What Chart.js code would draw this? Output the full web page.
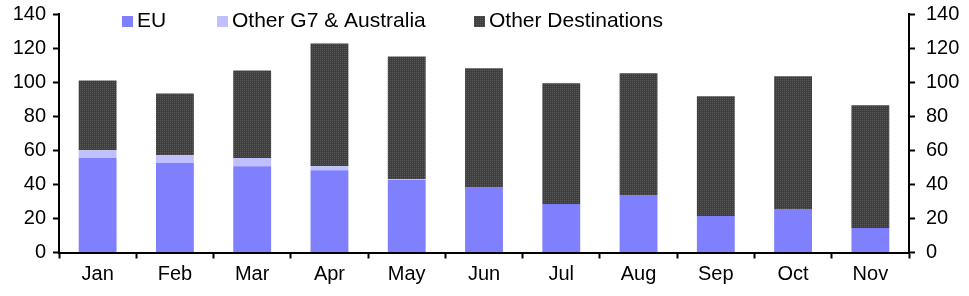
<!DOCTYPE html>
<html>
<head>
<meta charset="utf-8">
<script src="https://cdn.jsdelivr.net/npm/chart.js@4/dist/chart.umd.min.js"></script>
<style>
html,body{margin:0;padding:0;background:#fff;}
#wrap{position:relative;width:969px;height:296px;}
</style>
</head>
<body>
<div id="wrap"><canvas id="c" width="969" height="296"></canvas></div>
<script>
const categories = ['Jan','Feb','Mar','Apr','May','Jun','Jul','Aug','Sep','Oct','Nov'];
const euValues = [55.5, 52.5, 50.7, 48.3, 42.7, 38.4, 28.4, 33.7, 21.4, 25.5, 14.4];
const otherG7Values = [4.5, 4.7, 4.7, 2.4, 0.4, 0, 0, 0, 0, 0, 0];
const otherDestValues = [41.0, 36.1, 51.5, 72.0, 72.0, 69.7, 70.9, 71.5, 70.3, 77.9, 72.0];
const seriesLabels = ['EU', 'Other G7 & Australia', 'Other Destinations'];
const yTicks = [0, 20, 40, 60, 80, 100, 120, 140];

const FONT = '"Liberation Sans", Arial, sans-serif';

// stippled dark fill
function makePattern() {
  const p = document.createElement('canvas');
  p.width = 2; p.height = 2;
  const g = p.getContext('2d');
  g.fillStyle = '#3e3e3e'; g.fillRect(0, 0, 2, 2);
  g.fillStyle = '#5a5a5a'; g.fillRect(0, 0, 1, 1);
  return g.createPattern(p, 'repeat');
}
const darkFill = makePattern();

const legendPos = [
  {box: 122, text: 137},
  {box: 217, text: 232},
  {box: 474, text: 489}
];

const customLegend = {
  id: 'customLegend',
  afterDraw(chart) {
    const ctx = chart.ctx;
    ctx.save();
    ctx.font = '21px ' + FONT;
    ctx.textBaseline = 'middle';
    ctx.textAlign = 'left';
    chart.data.datasets.forEach((ds, i) => {
      const p = legendPos[i];
      ctx.fillStyle = ds.backgroundColor;
      ctx.fillRect(p.box, 16, 11, 11);
      ctx.fillStyle = '#000';
      ctx.fillText(ds.label, p.text, 21.5);
    });
    ctx.restore();
  }
};

const tickFont = {family: FONT, size: 20};

function fitY(width) {
  return function (s) {
    s.width = width;
    s.paddingTop = 0;
    s.paddingBottom = 0;
  };
}

new Chart(document.getElementById('c'), {
  type: 'bar',
  data: {
    labels: categories,
    datasets: [
      {label: seriesLabels[0], data: euValues, backgroundColor: '#8080ff', yAxisID: 'y'},
      {label: seriesLabels[1], data: otherG7Values, backgroundColor: '#c0c0ff', yAxisID: 'y'},
      {label: seriesLabels[2], data: otherDestValues, backgroundColor: darkFill, yAxisID: 'y'}
    ]
  },
  options: {
    responsive: false,
    animation: false,
    devicePixelRatio: 1,
    layout: {padding: {top: 14, left: 0, right: 0, bottom: 0}},
    datasets: {bar: {barPercentage: 0.49, categoryPercentage: 1.0, borderWidth: 0}},
    plugins: {legend: {display: false}, tooltip: {enabled: false}},
    scales: {
      x: {
        stacked: true,
        grid: {display: true, drawOnChartArea: false, drawTicks: true, tickLength: 6, tickWidth: 2, tickColor: '#000', offset: true},
        border: {display: true, color: '#000', width: 2},
        ticks: {font: tickFont, color: '#000', padding: 4, maxRotation: 0, autoSkip: false},
        afterFit(s) { s.height = 43.5; s.paddingLeft = 0; s.paddingRight = 0; }
      },
      y: {
        stacked: true,
        position: 'left',
        min: 0, max: 140,
        afterBuildTicks(s) { s.ticks = yTicks.map(v => ({value: v})); },
        grid: {display: true, drawOnChartArea: false, drawTicks: true, tickLength: 6, tickWidth: 2, tickColor: '#000'},
        border: {display: true, color: '#000', width: 2},
        ticks: {font: tickFont, color: '#000', padding: 7},
        afterFit: fitY(59)
      },
      y2: {
        position: 'right',
        min: 0, max: 140,
        afterBuildTicks(s) { s.ticks = yTicks.map(v => ({value: v})); },
        grid: {display: true, drawOnChartArea: false, drawTicks: true, tickLength: 6, tickWidth: 2, tickColor: '#000'},
        border: {display: true, color: '#000', width: 2},
        ticks: {font: tickFont, color: '#000', padding: 11},
        afterFit: fitY(60)
      }
    }
  },
  plugins: [customLegend]
});
</script>
</body>
</html>
